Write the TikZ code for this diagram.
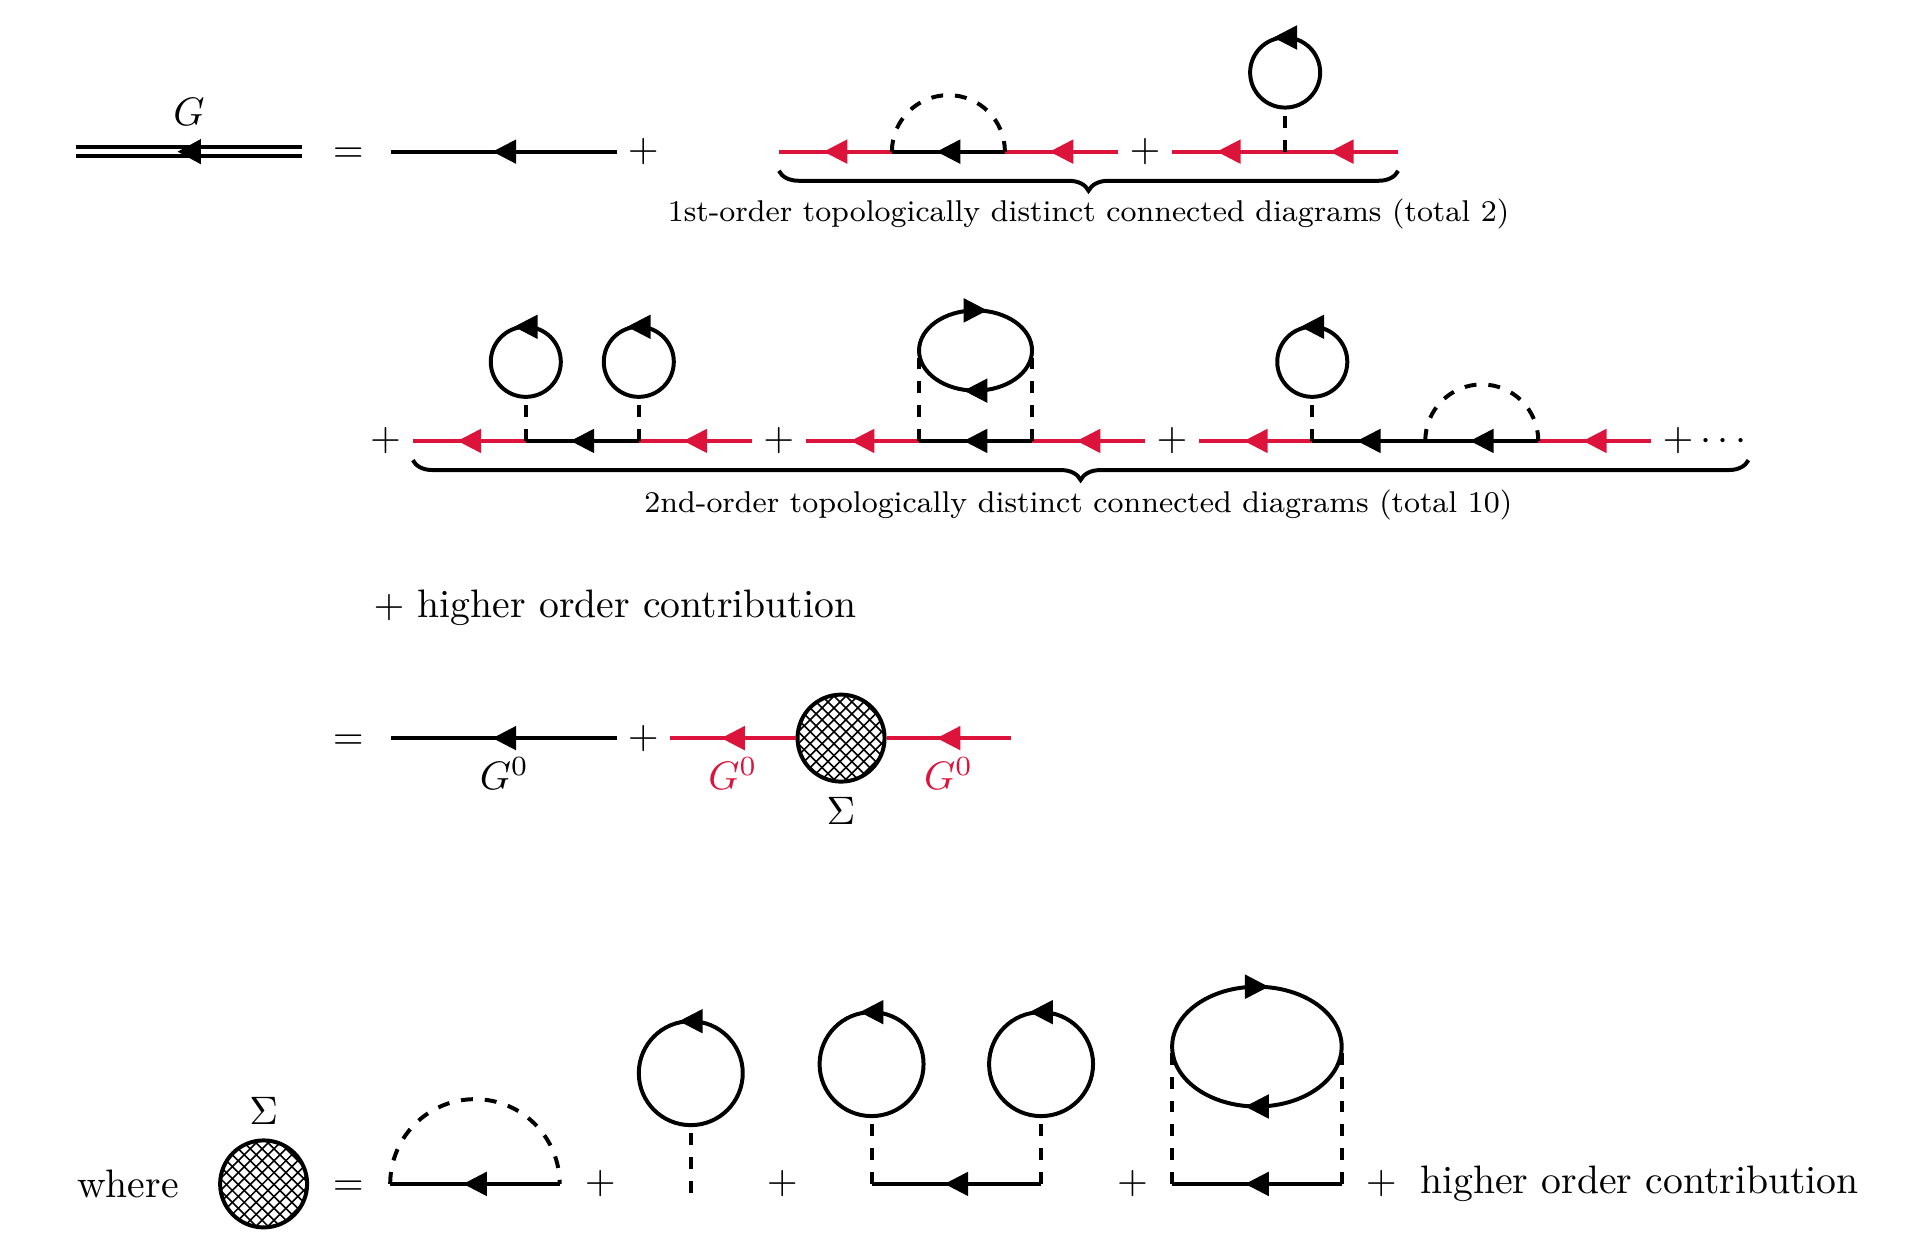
\documentclass[tikz,border=0pt]{standalone}
\usepackage{amsfonts,amsmath,amssymb}
\usepackage{tikz}
\usetikzlibrary{arrows.meta,shapes,patterns}
\usetikzlibrary{decorations.markings}
\usetikzlibrary{decorations.pathreplacing}

\definecolor{crimson}{RGB}{220,20,60}

\begin{document}
\begin{tikzpicture}[scale=1,
	>={Triangle[length=6pt,width=5.9pt]},
	prop/.style={line width=1pt,postaction={decorate,decoration={markings,mark=at position .5 with {\pgftransformxshift{3pt}\arrow{>}}}}},
	leg/.style={prop,crimson},
	dressed/.style={prop,double,double distance=1.2pt},
	inter/.style={line width=1pt,dashed},
	tad/.style={circle,draw,line width=1pt,inner sep=0pt,minimum size=#1,postaction={decorate,decoration={markings,mark=at position .25 with {\pgftransformxshift{3pt}\arrow{>}}}}},
	bub/.style={ellipse,draw,line width=1pt,inner sep=0pt,postaction={decorate,decoration={markings,mark=at position .25 with {\pgftransformxshift{3pt}\arrow{<}},mark=at position .75 with {\pgftransformxshift{3pt}\arrow{<}}}}},
	blob/.style={circle,draw,line width=1pt,inner sep=0pt,minimum size=0.77cm,pattern=north east lines,postaction={pattern=north west lines}},
	curly/.style={line width=1pt,decorate,decoration={brace,mirror,amplitude=5pt}},
	captext/.style={font=\fontsize{7.57pt}{9pt}\selectfont}]
	
	\useasboundingbox (-0.673,1.342) rectangle (16.327,-9.773);
	
	% G = G0 + first order
	\coordinate (g0) at (0,0);
	\coordinate (g1) at (2,0);
	\draw[dressed] (g1) -- (g0);
	\node (G) at (1,0.35) {$G$};
	\node[yshift=-1pt] (eq1) at (2.41,0) {$=$};
	\coordinate (p0) at (2.79,0);
	\coordinate (p1) at (4.79,0);
	\draw[prop] (p1) -- (p0);
	\node (pl1) at (5.02,0) {$+$};
	
	\coordinate (a0) at (6.22,0);
	\coordinate (a1) at (7.22,0);
	\coordinate (a2) at (8.22,0);
	\coordinate (a3) at (9.22,0);
	\draw[leg] (a1) -- (a0);
	\draw[prop] (a2) -- (a1);
	\draw[leg] (a3) -- (a2);
	\draw[inter] (a1) arc (180:0:0.5);
	\node (pl2) at (9.46,0) {$+$};
	
	\coordinate (b0) at (9.70,0);
	\coordinate (b1) at (10.70,0);
	\coordinate (b2) at (11.70,0);
	\draw[leg] (b1) -- (b0);
	\draw[leg] (b2) -- (b1);
	\node[tad=0.62cm] (tb) at (10.70,0.70) {};
	\draw[inter] (b1) -- (tb);
	
	\draw[curly] ([yshift=-0.17cm]a0) -- ([yshift=-0.17cm]b2);
	\node[captext] (cap1) at (8.96,-0.555) {1st-order topologically distinct connected diagrams (total 2)};
	
	% second order
	\node (pl3) at (2.74,-2.56) {$+$};
	\coordinate (c0) at (2.98,-2.56);
	\coordinate (c1) at (3.98,-2.56);
	\coordinate (c2) at (4.98,-2.56);
	\coordinate (c3) at (5.98,-2.56);
	\draw[leg] (c1) -- (c0);
	\draw[prop] (c2) -- (c1);
	\draw[leg] (c3) -- (c2);
	\node[tad=0.62cm] (tc1) at (3.98,-1.86) {};
	\node[tad=0.62cm] (tc2) at (4.98,-1.86) {};
	\draw[inter] (c1) -- (tc1);
	\draw[inter] (c2) -- (tc2);
	\node (pl4) at (6.22,-2.56) {$+$};
	
	\coordinate (d0) at (6.46,-2.56);
	\coordinate (d1) at (7.46,-2.56);
	\coordinate (d2) at (8.46,-2.56);
	\coordinate (d3) at (9.46,-2.56);
	\draw[leg] (d1) -- (d0);
	\draw[prop] (d2) -- (d1);
	\draw[leg] (d3) -- (d2);
	\node[bub,minimum width=1cm,minimum height=0.71cm] (bd) at (7.96,-1.76) {};
	\draw[inter] (d1) -- (d1 |- bd.west);
	\draw[inter] (d2) -- (d2 |- bd.east);
	\node (pl5) at (9.70,-2.56) {$+$};
	
	\coordinate (e0) at (9.94,-2.56);
	\coordinate (e1) at (10.94,-2.56);
	\coordinate (e2) at (11.94,-2.56);
	\coordinate (e3) at (12.94,-2.56);
	\coordinate (e4) at (13.94,-2.56);
	\draw[leg] (e1) -- (e0);
	\draw[prop] (e2) -- (e1);
	\draw[prop] (e3) -- (e2);
	\draw[leg] (e4) -- (e3);
	\node[tad=0.62cm] (te) at (10.94,-1.86) {};
	\draw[inter] (e1) -- (te);
	\draw[inter] (e2) arc (180:0:0.5);
	\node (pl6) at (14.44,-2.56) {$+\cdots$};
	\coordinate (cend) at (14.8,-2.56);
	
	\draw[curly] ([yshift=-0.17cm]c0) -- ([yshift=-0.17cm]cend);
	\node[captext] (cap2) at (8.87,-3.125) {2nd-order topologically distinct connected diagrams (total 10)};
	
	\node[anchor=west] (hoc1) at (2.51,-4.04) {$+$ higher order contribution};
	
	% Dyson form
	\node[yshift=-1pt] (eq2) at (2.41,-5.19) {$=$};
	\coordinate (q0) at (2.79,-5.19);
	\coordinate (q1) at (4.79,-5.19);
	\draw[prop] (q1) -- node[below=1pt] {$G^0$} (q0);
	\node (pl7) at (5.02,-5.19) {$+$};
	\coordinate (s0) at (5.26,-5.19);
	\coordinate (s1) at (8.27,-5.19);
	\node[blob] (sig1) at (6.77,-5.19) {};
	\draw[leg] (sig1) -- node[below=1pt] {$G^0$} (s0);
	\draw[leg] (s1) -- node[below=1pt] {$G^0$} (sig1);
	\node[below] (S1) at (sig1.south) {$\Sigma$};
	
	% self energy
	\node (wh) at (0.46,-9.135) {where};
	\node[blob] (sig2) at (1.66,-9.135) {};
	\node[above] (S2) at (sig2.north) {$\Sigma$};
	\node[yshift=-1pt] (eq3) at (2.41,-9.135) {$=$};
	
	\coordinate (f0) at (2.78,-9.135);
	\coordinate (f1) at (4.28,-9.135);
	\draw[prop] (f1) -- (f0);
	\draw[inter] (f0) arc (180:0:0.75);
	\node (pl8) at (4.64,-9.135) {$+$};
	
	\coordinate (h0) at (5.44,-9.215);
	\node[tad=0.92cm] (th) at (5.44,-8.155) {};
	\draw[inter] (h0) -- (th);
	\node (pl9) at (6.25,-9.135) {$+$};
	
	\coordinate (k0) at (7.04,-9.135);
	\coordinate (k1) at (8.54,-9.135);
	\draw[prop] (k1) -- (k0);
	\node[tad=0.92cm] (tk0) at (7.04,-8.075) {};
	\node[tad=0.92cm] (tk1) at (8.54,-8.075) {};
	\draw[inter] (k0) -- (tk0);
	\draw[inter] (k1) -- (tk1);
	\node (pl10) at (9.35,-9.135) {$+$};
	
	\coordinate (m0) at (9.70,-9.135);
	\coordinate (m1) at (11.20,-9.135);
	\draw[prop] (m1) -- (m0);
	\node[bub,minimum width=1.5cm,minimum height=1.06cm] (bm) at (10.45,-7.92) {};
	\draw[inter] (m0) -- (m0 |- bm.west);
	\draw[inter] (m1) -- (m1 |- bm.east);
	\node (pl11) at (11.55,-9.135) {$+$};
	\node[anchor=west] (hoc2) at (11.77,-9.135) {higher order contribution};
	
\end{tikzpicture}
\end{document}
